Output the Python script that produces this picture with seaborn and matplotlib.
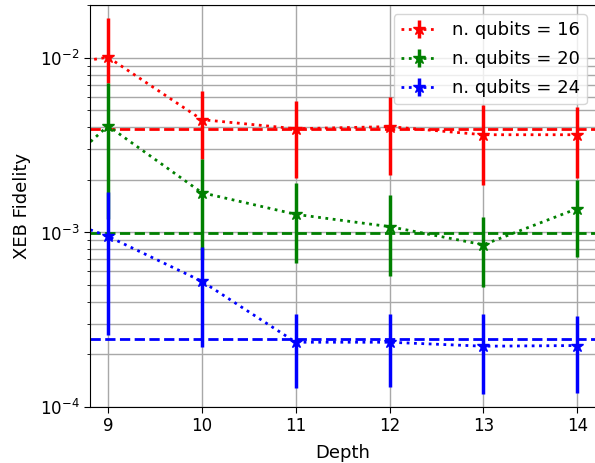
import matplotlib
matplotlib.use("Agg")
import matplotlib.pyplot as plt
import numpy as np
import seaborn as sns

depth = [8, 9, 10, 11, 12, 13, 14]

# XEB fidelity per number of qubits, with lower / upper ends of the error bars
fid_16 = [0.0083, 0.0101, 0.00443, 0.00393, 0.00404, 0.00363, 0.00363]
lo_16 = [0.0060, 0.0072, 0.00262, 0.00206, 0.00214, 0.00188, 0.00204]
hi_16 = [0.0120, 0.0169, 0.00648, 0.00568, 0.00598, 0.00540, 0.00525]

fid_20 = [0.00133, 0.00408, 0.00169, 0.00127, 0.00108, 0.00085, 0.00137]
lo_20 = [0.0008, 0.00119, 0.00070, 0.00067, 0.00056, 0.00049, 0.00072]
hi_20 = [0.0025, 0.00720, 0.00264, 0.00193, 0.00163, 0.00123, 0.00200]

fid_24 = [0.0015, 0.00095, 0.000525, 0.000235, 0.000235, 0.000223, 0.000225]
lo_24 = [0.0007, 0.00026, 0.00022, 0.000128, 0.00013, 0.000119, 0.000121]
hi_24 = [0.0030, 0.00170, 0.00083, 0.00034, 0.00034, 0.00034, 0.00033]

baseline = {16: 0.0039, 20: 0.00099, 24: 0.000245}

sns.set_style("ticks", {'axes.edgecolor': 'black', 'xtick.color': 'black',
                        'ytick.color': 'black', 'text.color': 'black',
                        'axes.labelcolor': 'black'})
plt.rcParams['font.family'] = ['DejaVu Sans']
plt.rcParams['font.size'] = 12

fig = plt.figure(figsize=(5.95, 4.63), dpi=100)
ax = fig.add_axes([90 / 595, 1 - 407 / 463, 506 / 595, 402 / 463])

series = [(16, 'red', fid_16, lo_16, hi_16),
          (20, 'green', fid_20, lo_20, hi_20),
          (24, 'blue', fid_24, lo_24, hi_24)]

for nq, col, fid, lo, hi in series:
    fid = np.array(fid)
    yerr = [fid - np.array(lo), np.array(hi) - fid]
    ax.errorbar(depth, fid, yerr=yerr, fmt=':*', color=col, lw=2, elinewidth=2.5,
                markersize=9, label='n. qubits = {:d}'.format(nq))
    ax.axhline(baseline[nq], color=col, ls='--', lw=2)

ax.set_yscale('log')
ax.set_xlim(8.808, 14.2)
ax.set_ylim(1e-4, 0.0201)
ax.set_xticks([9, 10, 11, 12, 13, 14])
ax.grid(True, which='both', color='#a8a8a8', lw=1)
ax.set_axisbelow(True)
ax.spines['right'].set_visible(False)
ax.tick_params(which='both', direction='out', labelsize=12)
ax.tick_params(which='major', length=4)
ax.tick_params(which='minor', length=2.5)
ax.set_xlabel('Depth', fontsize=13, labelpad=6)
ax.set_ylabel('XEB Fidelity', fontsize=13, labelpad=6)
ax.legend(loc='upper right', fontsize=13, framealpha=0.8, borderaxespad=0.5,
          labelspacing=0.6)

fig.savefig('out.png', dpi=100)
